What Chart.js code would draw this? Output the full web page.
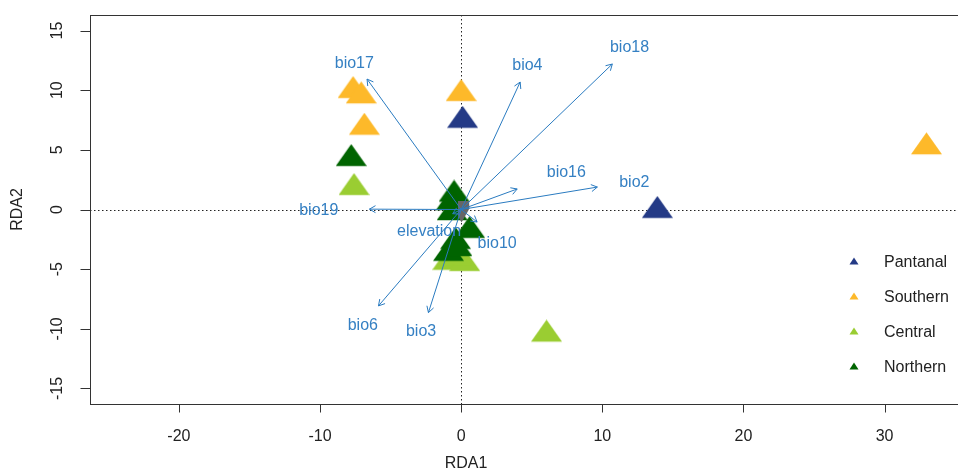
<!DOCTYPE html>
<html><head><meta charset="utf-8">
<script src="https://cdn.jsdelivr.net/npm/chart.js@4/dist/chart.umd.min.js"></script>
<style>
html,body{margin:0;padding:0;background:#fff;overflow:hidden;}
#wrap{width:975px;height:474px;position:relative;}
</style></head><body>
<div id="wrap"><canvas id="c" width="975" height="474"></canvas></div>
<script>
// ---- data ----
const groups = ['Pantanal', 'Southern', 'Central', 'Northern'];
const groupColors = ['#243A86', '#FDB92A', '#9ACD32', '#006400'];

const pantanalX = [0.1, 13.9];
const pantanalY = [7.45, -0.1];
const southernX = [-7.66, -7.08, 0.0, -6.86, 32.97];
const southernY = [9.95, 9.5, 9.7, 6.87, 5.23];
const centralX = [-7.59, 6.05, -0.95, 0.25, -0.35];
const centralY = [1.82, -10.47, -4.45, -4.55, -4.0];
const northernX = [-7.79, -0.5, -0.71, -0.64, 0.6, -0.4, -0.9, -0.3];
const northernY = [4.25, 1.26, 0.54, -0.29, -1.78, -2.7, -3.7, -3.3];
const centreMarkX = [0.2];
const centreMarkY = [-0.2];

const envVars = ['bio17', 'bio4', 'bio18', 'bio16', 'bio2', 'bio19', 'bio6', 'bio3', 'bio10', 'elevation'];
const arrowX = [-6.67, 4.18, 10.71, 3.97, 9.65, -6.5, -5.86, -2.32, 1.13, -0.6];
const arrowY = [10.93, 10.68, 12.19, 1.72, 1.88, 0.03, -8.08, -8.64, -1.05, -0.35];
const labelX = [-7.57, 4.69, 11.93, 7.45, 12.27, -10.09, -6.97, -2.84, 2.55, -2.27];
const labelY = [12.24, 12.02, 13.58, 3.06, 2.22, -0.1, -9.73, -10.23, -2.83, -1.86];

const xTicks = [-20, -10, 0, 10, 20, 30];
const yTicks = [-15, -10, -5, 0, 5, 10, 15];
const xTitle = 'RDA1';
const yTitle = 'RDA2';

// ---- styles ----
const FONT = '16px "Liberation Sans", Arial, sans-serif';
const ARROW_COLOR = '#2A7BC0';
const LABEL_COLOR = '#3580C3';
const TEXT_COLOR = '#222';

function triImage(color) {
  const c = document.createElement('canvas');
  c.width = 31; c.height = 30;
  const g = c.getContext('2d');
  g.fillStyle = color;
  g.beginPath();
  g.moveTo(15.5, 0.3);
  g.lineTo(31, 22.3);
  g.lineTo(0, 22.3);
  g.closePath();
  g.fill();
  return c;
}
function greyMark() {
  const c = document.createElement('canvas');
  c.width = 12; c.height = 22;
  const g = c.getContext('2d');
  g.fillStyle = '#666';
  g.beginPath();
  g.moveTo(0, 0); g.lineTo(11, 0); g.lineTo(11.5, 7.5); g.lineTo(3.5, 21.5); g.lineTo(0, 15);
  g.closePath(); g.fill();
  return c;
}
function pts(xs, ys) { return xs.map((v, i) => ({ x: v, y: ys[i] })); }

const seriesX = [pantanalX, southernX, centralX, northernX];
const seriesY = [pantanalY, southernY, centralY, northernY];
const drawOrder = [2, 3, 4, 1];

const datasets = groups.map((g, i) => ({
  label: g,
  data: pts(seriesX[i], seriesY[i]),
  pointStyle: triImage(groupColors[i]),
  backgroundColor: groupColors[i],
  borderColor: groupColors[i],
  order: drawOrder[i]
}));
datasets.push({
  label: '_centre',
  data: pts(centreMarkX, centreMarkY),
  pointStyle: greyMark(),
  backgroundColor: '#666',
  order: 0
});

const rPlot = {
  id: 'rPlot',
  beforeDatasetsDraw(chart) {
    const { ctx, chartArea: a, scales: { x, y } } = chart;
    ctx.save();
    ctx.strokeStyle = '#222';
    ctx.lineWidth = 1;
    ctx.setLineDash([1.5, 2.5]);
    const x0 = Math.round(x.getPixelForValue(0)) + 0.5;
    const y0 = Math.round(y.getPixelForValue(0)) + 0.5;
    ctx.beginPath();
    ctx.moveTo(x0, a.top); ctx.lineTo(x0, a.bottom);
    ctx.moveTo(a.left, y0); ctx.lineTo(a.right, y0);
    ctx.stroke();
    ctx.restore();
  },
  afterDatasetsDraw(chart) {
    const { ctx, chartArea: a, scales: { x, y } } = chart;
    ctx.save();
    // arrows
    const ox = x.getPixelForValue(0), oy = y.getPixelForValue(0);
    ctx.strokeStyle = ARROW_COLOR;
    ctx.lineWidth = 1;
    envVars.forEach((v, i) => {
      const px = x.getPixelForValue(arrowX[i]);
      const py = y.getPixelForValue(arrowY[i]);
      const ang = Math.atan2(py - oy, px - ox);
      const L = 7, h = Math.PI / 6;
      ctx.beginPath();
      ctx.moveTo(ox, oy); ctx.lineTo(px, py);
      ctx.moveTo(px - L * Math.cos(ang - h), py - L * Math.sin(ang - h));
      ctx.lineTo(px, py);
      ctx.lineTo(px - L * Math.cos(ang + h), py - L * Math.sin(ang + h));
      ctx.stroke();
    });
    // labels
    ctx.font = FONT;
    ctx.fillStyle = LABEL_COLOR;
    ctx.textAlign = 'center';
    ctx.textBaseline = 'middle';
    envVars.forEach((v, i) => {
      ctx.fillText(v, x.getPixelForValue(labelX[i]), y.getPixelForValue(labelY[i]));
    });
    ctx.restore();
  },
  afterDraw(chart) {
    const { ctx, chartArea: a, scales: { x, y } } = chart;
    ctx.save();
    // frame
    ctx.strokeStyle = '#333';
    ctx.lineWidth = 1;
    const L = Math.round(a.left) + 0.5, T = Math.round(a.top) + 0.5,
          R = Math.round(a.right) + 0.5, B = Math.round(a.bottom) + 0.5;
    ctx.strokeRect(L, T, R - L, B - T);
    // x ticks
    ctx.font = FONT;
    ctx.fillStyle = TEXT_COLOR;
    ctx.beginPath();
    xTicks.forEach(t => {
      const px = Math.round(x.getPixelForValue(t)) + 0.5;
      ctx.moveTo(px, B); ctx.lineTo(px, B + 8);
    });
    yTicks.forEach(t => {
      const py = Math.round(y.getPixelForValue(t)) + 0.5;
      ctx.moveTo(L, py); ctx.lineTo(L - 10, py);
    });
    ctx.stroke();
    ctx.textAlign = 'center';
    ctx.textBaseline = 'middle';
    xTicks.forEach(t => {
      ctx.fillText(String(t), x.getPixelForValue(t), 437);
    });
    yTicks.forEach(t => {
      ctx.save();
      ctx.translate(58, y.getPixelForValue(t));
      ctx.rotate(-Math.PI / 2);
      ctx.fillText(String(t), 0, 0);
      ctx.restore();
    });
    // titles
    ctx.fillText(xTitle, 466, 464);
    ctx.save();
    ctx.translate(18, (a.top + a.bottom) / 2);
    ctx.rotate(-Math.PI / 2);
    ctx.fillText(yTitle, 0, 0);
    ctx.restore();
    // legend
    const rows = [262, 297, 332, 367];
    ctx.textAlign = 'left';
    groups.forEach((g, i) => {
      const cx = 854, cy = rows[i];
      ctx.fillStyle = groupColors[i];
      ctx.beginPath();
      ctx.moveTo(cx, cy - 4.5); ctx.lineTo(cx + 4.5, cy + 2.5); ctx.lineTo(cx - 4.5, cy + 2.5);
      ctx.closePath(); ctx.fill();
      ctx.fillStyle = TEXT_COLOR;
      ctx.fillText(g, 884, cy + 1);
    });
    ctx.restore();
  }
};

new Chart(document.getElementById('c'), {
  type: 'scatter',
  data: { datasets },
  options: {
    responsive: false,
    animation: false,
    events: [],
    layout: { padding: { left: 90, right: 10, top: 15, bottom: 70 } },
    scales: {
      x: { type: 'linear', min: -26.3, max: 35.7, display: false },
      y: { type: 'linear', min: -16.3, max: 16.3, display: false }
    },
    plugins: { legend: { display: false }, tooltip: { enabled: false } }
  },
  plugins: [rPlot]
});
</script>
</body></html>
